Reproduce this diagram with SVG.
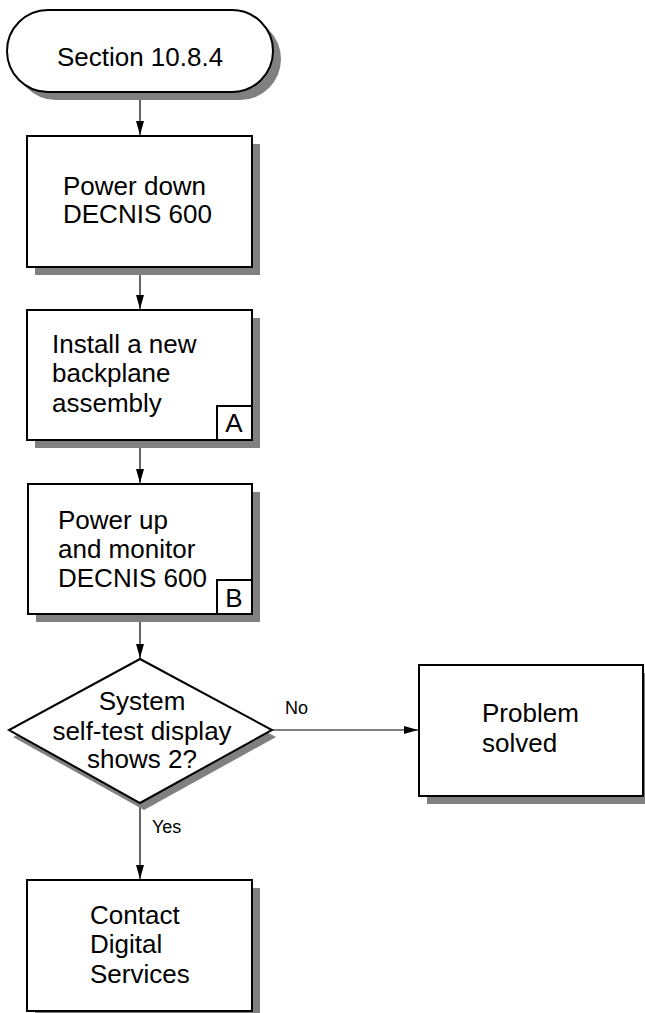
<svg xmlns="http://www.w3.org/2000/svg" width="645" height="1013" viewBox="0 0 645 1013">
<style>
.shape{fill:#fff;stroke:#000;stroke-width:2}
.shadow{fill:#808080;stroke:none}
.t{font-family:"Liberation Sans",Arial,sans-serif;font-size:26px;fill:#000}
.c{text-anchor:middle}
.lbl{font-family:"Liberation Sans",Arial,sans-serif;font-size:18px;fill:#000}
.conn{stroke:#000;stroke-width:1.2;fill:none;marker-end:url(#arr)}
</style>
<defs>
<marker id="arr" viewBox="0 0 14 8" refX="14" refY="4" markerWidth="14" markerHeight="8" markerUnits="userSpaceOnUse" orient="auto">
<path d="M0,0 L14,4 L0,8 Z" fill="#000"/>
</marker>
</defs>
<rect width="645" height="1013" fill="#fff"/>
<g id="connectors">
<line class="conn" x1="140" y1="92" x2="140" y2="135"/>
<line class="conn" x1="140" y1="267" x2="140" y2="309"/>
<line class="conn" x1="140" y1="440" x2="140" y2="483"/>
<line class="conn" x1="140" y1="614" x2="140" y2="658"/>
<line class="conn" x1="140" y1="803" x2="140" y2="879"/>
<line class="conn" x1="272" y1="730" x2="418" y2="730"/>
<text class="lbl" x="285" y="714">No</text>
<text class="lbl" x="152" y="833">Yes</text>
</g>
<g id="start">
<rect class="shadow" x="15" y="18" width="266" height="82" rx="41"/>
<rect class="shape" x="7" y="10" width="266" height="82" rx="41"/>
<text class="t c" x="140" y="66">Section 10.8.4</text>
</g>
<g id="power-down">
<rect class="shadow" x="35" y="144" width="225" height="131"/>
<rect class="shape" x="27" y="136" width="225" height="131"/>
<text class="t" x="63" y="195">Power down</text>
<text class="t" x="63" y="223">DECNIS 600</text>
</g>
<g id="install">
<rect class="shadow" x="35" y="318" width="225" height="130"/>
<rect class="shape" x="27" y="310" width="225" height="130"/>
<rect class="shape" x="217" y="406" width="35" height="34"/>
<text class="t" x="52" y="353">Install a new</text>
<text class="t" x="52" y="382">backplane</text>
<text class="t" x="52" y="412">assembly</text>
<text class="t c" x="234" y="432">A</text>
</g>
<g id="power-up">
<rect class="shadow" x="36" y="492" width="224" height="130"/>
<rect class="shape" x="28" y="484" width="224" height="130"/>
<rect class="shape" x="217" y="580" width="35" height="34"/>
<text class="t" x="58" y="529">Power up</text>
<text class="t" x="58" y="558">and monitor</text>
<text class="t" x="58" y="587">DECNIS 600</text>
<text class="t c" x="234" y="607">B</text>
</g>
<g id="decision">
<polygon class="shadow" points="144,666 276,737 144,810 13,737"/>
<polygon class="shape" points="140,659 272,730 140,803 9,730"/>
<text class="t c" x="142" y="710">System</text>
<text class="t c" x="142" y="740">self-test display</text>
<text class="t c" x="142" y="768">shows 2?</text>
</g>
<g id="solved">
<rect class="shadow" x="427" y="673" width="224" height="131"/>
<rect class="shape" x="419" y="665" width="224" height="131"/>
<text class="t" x="482" y="722">Problem</text>
<text class="t" x="482" y="752">solved</text>
</g>
<g id="contact">
<rect class="shadow" x="35" y="888" width="225" height="131"/>
<rect class="shape" x="27" y="880" width="225" height="131"/>
<text class="t" x="90" y="924">Contact</text>
<text class="t" x="90" y="953">Digital</text>
<text class="t" x="90" y="983">Services</text>
</g>
</svg>
